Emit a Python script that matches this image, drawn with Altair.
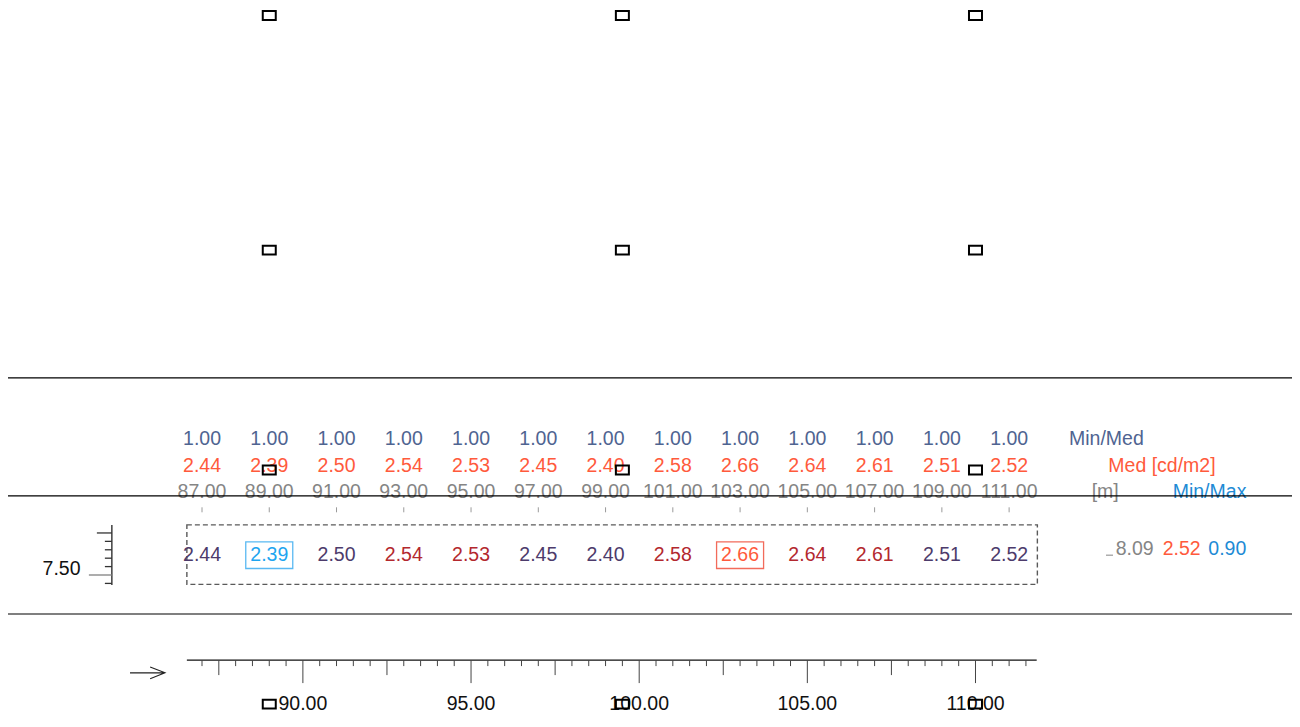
import altair as alt
import pandas as pd
import numpy as np

# ---------------- data ----------------
grid_x = [87.0, 89.0, 91.0, 93.0, 95.0, 97.0, 99.0, 101.0, 103.0, 105.0, 107.0, 109.0, 111.0]
luminance = [2.44, 2.39, 2.50, 2.54, 2.53, 2.45, 2.40, 2.58, 2.66, 2.64, 2.61, 2.51, 2.52]
min_med = [1.00, 1.00, 1.00, 1.00, 1.00, 1.00, 1.00, 1.00, 1.00, 1.00, 1.00, 1.00, 1.00]
row_y = 8.09
summary_labels = ["8.09", "2.52", "0.90"]          # row y, Lm [cd/m2], U0 (Min/Max)
lum_x = [89.0, 99.5, 110.0]                          # luminaire positions [m]
lum_y = [24.14, 17.16, 10.62, 3.66]
road_lines_y = [13.36, 9.85, 6.34]
field_x = [86.55, 111.84]
field_y = [7.22, 8.99]
ruler_x = 84.32
ruler_ticks = [7.25, 7.50, 7.75, 8.00, 8.25, 8.50, 8.75]
ruler_span = [7.20, 8.99]
ruler_label = 7.50
axis_span = [86.55, 111.82]
axis_y = 4.97
axis_labels = [90.0, 95.0, 100.0, 105.0, 110.0]
arrow_pos = [85.38, 4.59]
header_labels = ["Min/Med", "Med [cd/m2]", "[m]", "Min/Max"]

# ---------------- layout / scales ----------------
K = 33.63                      # pixels per metre
W, H = 1284, 706
FONT = "Liberation Sans"
FS = 19.5
xs = alt.Scale(domain=[87 - 194 / K, 87 + 1090 / K], nice=False, zero=False)
ys = alt.Scale(domain=[7.5 - 139 / K, 7.5 + 567 / K], nice=False, zero=False)


def X(f="x"):
    return alt.X(f"{f}:Q", scale=xs, axis=None)


def Y(f="y"):
    return alt.Y(f"{f}:Q", scale=ys, axis=None)


C_MINMED = "#4f6491"
C_MED = "#ff5a3c"
C_GRAY = "#858585"
C_BLUE = "#1e8bd5"
C_LOW = "#4d3b6b"
C_HIGH = "#b3282e"
C_MINV = "#1ea5f0"
C_MAXV = "#ff5a3c"

mean_l = float(np.round(np.mean(luminance), 2))
imin, imax = int(np.argmin(luminance)), int(np.argmax(luminance))

# ---------------- grid row ----------------
cols = []
for i, v in enumerate(luminance):
    if i == imin:
        cols.append(C_MINV)
    elif i == imax:
        cols.append(C_MAXV)
    elif v > mean_l:
        cols.append(C_HIGH)
    else:
        cols.append(C_LOW)
df_grid = pd.DataFrame({"x": grid_x, "y": [row_y] * len(grid_x),
                        "label": [f"{v:.2f}" for v in luminance], "c": cols})

grid_text = alt.Chart(df_grid).mark_text(font=FONT, fontSize=FS, baseline="middle", align="center").encode(
    x=X(), y=Y(), text="label:N", color=alt.Color("c:N", scale=None))

df_box = pd.DataFrame({"x": [grid_x[imin], grid_x[imax]], "y": [row_y, row_y],
                       "c": ["#5ab9f2", "#f26b5b"]})
boxes = alt.Chart(df_box).mark_point(shape="M-1,-0.568H1V0.568H-1Z", size=2209, filled=False,
                                     strokeWidth=1.3, opacity=1).encode(
    x=X(), y=Y(), color=alt.Color("c:N", scale=None))

df_field = pd.DataFrame({"x": [field_x[0]], "x2": [field_x[1]], "y": [field_y[0]], "y2": [field_y[1]]})
field = alt.Chart(df_field).mark_rect(fill="transparent", stroke="#5a5a5a", strokeDash=[5, 3],
                                      strokeWidth=1.4).encode(
    x=X(), x2="x2:Q", y=Y(), y2="y2:Q")

# ---------------- header rows ----------------
df_cols = pd.DataFrame({"x": grid_x,
                        "mm": [f"{v:.2f}" for v in min_med],
                        "med": [f"{v:.2f}" for v in luminance],
                        "pos": [f"{v:.2f}" for v in grid_x]})
row_mm = alt.Chart(df_cols).mark_text(font=FONT, fontSize=FS, baseline="alphabetic", color=C_MINMED).encode(
    x=X(), y=alt.value(437), text="mm:N")
row_med = alt.Chart(df_cols).mark_text(font=FONT, fontSize=FS, baseline="alphabetic", color=C_MED).encode(
    x=X(), y=alt.value(464.3), text="med:N")
row_pos = alt.Chart(df_cols).mark_text(font=FONT, fontSize=FS, baseline="alphabetic", color=C_GRAY).encode(
    x=X(), y=alt.value(490.3), text="pos:N")
pos_ticks = alt.Chart(df_cols).mark_rule(color="#9a9a9a", strokeWidth=1).encode(
    x=X(), y=alt.value(499.3), y2=alt.value(504.3))

df_hdr = pd.DataFrame({"t": header_labels,
                       "px": [1061, 1100.3, 1083.7, 1164.7],
                       "py": [437, 464.3, 490.3, 490.3],
                       "c": [C_MINMED, C_MED, C_GRAY, C_BLUE]})
hdr = alt.Chart(df_hdr).mark_text(font=FONT, fontSize=FS, baseline="alphabetic", align="left").encode(
    x=alt.X("px:Q", scale=None), y=alt.Y("py:Q", scale=None), text="t:N",
    color=alt.Color("c:N", scale=None))

# ---------------- summary ----------------
df_sum = pd.DataFrame({"t": summary_labels, "px": [1107.7, 1154.7, 1200.3],
                       "y": [row_y] * 3, "c": [C_GRAY, C_MED, C_BLUE]})
summ = alt.Chart(df_sum).mark_text(font=FONT, fontSize=FS, baseline="alphabetic", align="left").encode(
    x=alt.X("px:Q", scale=None), y=Y(), text="t:N", color=alt.Color("c:N", scale=None))
summ_mark = alt.Chart(pd.DataFrame({"y": [row_y]})).mark_rule(color=C_GRAY, strokeWidth=1).encode(
    x=alt.value(1098), x2=alt.value(1105), y=Y())

# ---------------- ruler (left) ----------------
df_rv = pd.DataFrame({"x": [ruler_x], "y": [ruler_span[0]], "y2": [ruler_span[1]]})
ruler_v = alt.Chart(df_rv).mark_rule(color="#222222", strokeWidth=1.3).encode(x=X(), y=Y(), y2="y2:Q")
tick_len = [23 if abs(t - ruler_label) < 1e-9 else (15 if abs(t - 8.75) < 1e-9 else 7) for t in ruler_ticks]
df_rt = pd.DataFrame({"y": ruler_ticks, "x": [ruler_x] * len(ruler_ticks),
                      "x2": [ruler_x - L / K for L in tick_len],
                      "c": ["#808080" if abs(t - ruler_label) < 1e-9 else "#333333" for t in ruler_ticks]})
ruler_t = alt.Chart(df_rt).mark_rule(strokeWidth=1.3).encode(
    x=X(), x2="x2:Q", y=Y(), color=alt.Color("c:N", scale=None))
ruler_lab = alt.Chart(pd.DataFrame({"y": [ruler_label], "t": [f"{ruler_label:.2f}"]})).mark_text(
    font=FONT, fontSize=FS, baseline="alphabetic", align="right", color="#111111").encode(
    x=alt.value(72.5), y=Y(), text="t:N")

# ---------------- bottom axis ----------------
ticks = np.arange(87.0, 111.51, 0.5)
blen = [23 if abs(t % 5) < 1e-9 else (15 if abs(t % 5 - 2.5) < 1e-9 else 6) for t in ticks]
df_bt = pd.DataFrame({"x": ticks, "y": [axis_y] * len(ticks),
                      "y2": [axis_y - L / K for L in blen]})
ax_line = alt.Chart(pd.DataFrame({"x": [axis_span[0]], "x2": [axis_span[1]], "y": [axis_y]})).mark_rule(
    color="#111111", strokeWidth=1.3).encode(x=X(), x2="x2:Q", y=Y())
ax_ticks = alt.Chart(df_bt).mark_rule(color="#444444", strokeWidth=1).encode(x=X(), y=Y(), y2="y2:Q")
ax_labels = alt.Chart(pd.DataFrame({"x": axis_labels, "t": [f"{v:.2f}" for v in axis_labels]})).mark_text(
    font=FONT, fontSize=FS, baseline="alphabetic", align="center", color="#111111").encode(
    x=X(), y=alt.value(702), text="t:N")

arrow = alt.Chart(pd.DataFrame({"x": [arrow_pos[0]], "y": [arrow_pos[1]]})).mark_point(
    shape="M-1,0H1M0.15,-0.34L1,0L0.15,0.34", size=1225, filled=False, strokeWidth=1.1,
    color="#222222", opacity=1).encode(x=X(), y=Y())

# ---------------- road and luminaires ----------------
roads = alt.Chart(pd.DataFrame({"y": road_lines_y})).mark_rule(color="#000000", strokeWidth=1.2).encode(
    x=alt.value(0), x2=alt.value(W + 1), y=Y())

df_lum = pd.DataFrame([(a, b) for b in lum_y for a in lum_x], columns=["x", "y"])
lums = alt.Chart(df_lum).mark_point(shape="M-1,-0.69H1V0.69H-1Z", size=169, filled=False,
                                    strokeWidth=2, color="#000000", opacity=1).encode(x=X(), y=Y())

chart = alt.layer(
    field, grid_text, boxes, row_mm, row_med, row_pos, pos_ticks, hdr, summ, summ_mark,
    ruler_v, ruler_t, ruler_lab, ax_line, ax_ticks, ax_labels, arrow, roads, lums
).properties(
    width=W, height=H, padding=0, background="white",
    autosize=alt.AutoSizeParams(type="none")
).configure_view(stroke=None)

chart.save("out.html", embed_options={"renderer": "svg", "actions": False})
